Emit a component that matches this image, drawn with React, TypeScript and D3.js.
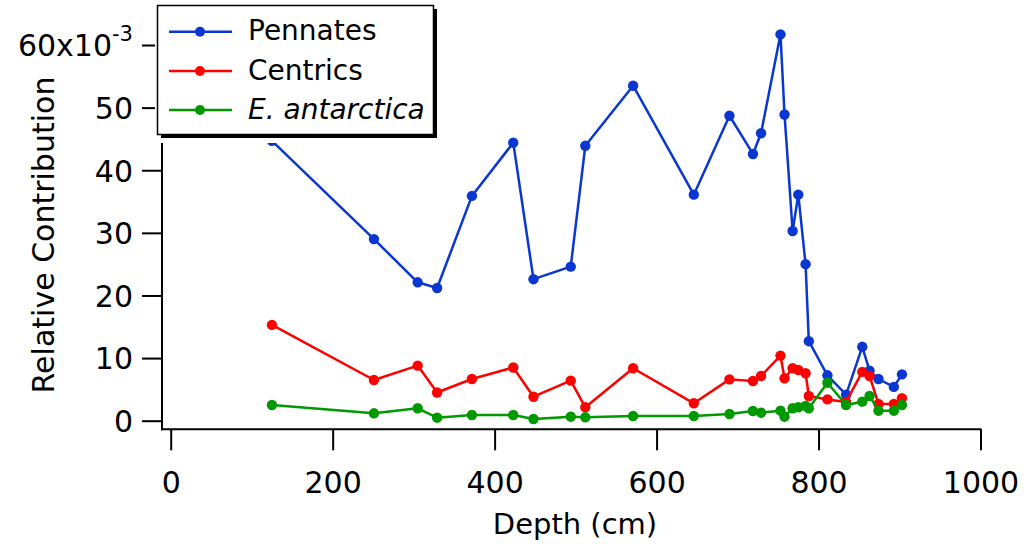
import React, { useRef, useEffect } from 'react';
import * as d3 from 'd3';

// depth in cm, values in units of 1e-3
const depths = [125, 251, 305, 329, 372, 423, 448, 494, 512, 571, 646, 690, 719, 729, 753, 758, 768, 775, 784, 788, 811, 834, 854, 863, 874, 893, 903];
const pennates = [44.7, 29.0, 22.1, 21.2, 35.9, 44.4, 22.6, 24.6, 43.9, 53.5, 36.1, 48.7, 42.6, 45.9, 61.7, 48.9, 30.3, 36.1, 25.0, 12.7, 7.25, 4.15, 11.8, 8.0, 6.66, 5.4, 7.4];
const centrics = [15.3, 6.5, 8.8, 4.5, 6.66, 8.5, 3.83, 6.4, 2.14, 8.37, 2.78, 6.6, 6.34, 7.14, 10.4, 6.77, 8.37, 8.1, 7.57, 3.95, 3.4, 3.0, 7.8, 7.14, 2.67, 2.67, 3.58];
const eAntarctica = [2.5, 1.18, 1.98, 0.48, 0.91, 0.91, 0.27, 0.64, 0.54, 0.75, 0.75, 1.07, 1.55, 1.28, 1.6, 0.64, 1.98, 2.14, 2.35, 1.98, 6.07, 2.5, 3.04, 3.95, 1.6, 1.6, 2.5];

const seriesNames = ['Pennates', 'Centrics', 'E. antarctica'];
const seriesColors = ['#0a36d2', '#ff0000', '#009900'];
const xTicks = [0, 200, 400, 600, 800, 1000];
const yTicks = [0, 10, 20, 30, 40, 50, 60];

function App() {
  const ref = useRef<SVGSVGElement>(null);

  useEffect(() => {
    const svg = d3.select(ref.current);
    svg.selectAll('*').remove();

    const font = "'DejaVu Sans', sans-serif";
    const axisX = 162;
    const axisY = 429.3;

    const xScale = d3.scaleLinear().domain([0, 1000]).range([170.7, 980.5]);
    const yScale = d3.scaleLinear().domain([0, 60]).range([420.7, 45]);

    // x axis
    const gx = svg.append('g').attr('transform', `translate(0,${axisY})`)
      .call(d3.axisBottom(xScale).tickValues(xTicks).tickSize(21).tickSizeOuter(0).tickFormat(d3.format('d')));
    gx.select('.domain').remove();
    gx.selectAll('line').attr('stroke', '#000').attr('stroke-width', 2);
    gx.selectAll('text').attr('y', 64).attr('dy', null)
      .attr('font-family', font).attr('font-size', 30).attr('fill', '#000');
    svg.append('line').attr('x1', axisX - 1).attr('x2', xScale(1000) + 1)
      .attr('y1', axisY).attr('y2', axisY).attr('stroke', '#000').attr('stroke-width', 2);

    // y axis
    const gy = svg.append('g').attr('transform', `translate(${axisX},0)`)
      .call(d3.axisLeft(yScale).tickValues(yTicks).tickSize(20).tickPadding(9).tickSizeOuter(0).tickFormat(d3.format('d')));
    gy.select('.domain').remove();
    gy.selectAll('line').attr('stroke', '#000').attr('stroke-width', 2);
    gy.selectAll('text').attr('font-family', font).attr('font-size', 30).attr('fill', '#000').attr('dy', '0.36em');
    gy.selectAll<SVGTextElement, number>('text').filter(d => d === 60).each(function () {
      const t = d3.select(this);
      t.text('60x10');
      t.append('tspan').attr('font-size', 21).attr('dy', '-0.75em').text('-3');
    });
    svg.append('line').attr('x1', axisX).attr('x2', axisX)
      .attr('y1', 38).attr('y2', axisY + 1).attr('stroke', '#000').attr('stroke-width', 2);

    // axis titles
    svg.append('text').attr('x', 575).attr('y', 534).attr('text-anchor', 'middle')
      .attr('font-family', font).attr('font-size', 29).attr('fill', '#000').text('Depth (cm)');
    svg.append('text').attr('transform', 'translate(54,235) rotate(-90)').attr('text-anchor', 'middle')
      .attr('font-family', font).attr('font-size', 30).attr('fill', '#000').text('Relative Contribution');

    // traces
    const allSeries = [pennates, centrics, eAntarctica];
    const line = d3.line<number>().x((d, i) => xScale(depths[i])).y(d => yScale(d));
    allSeries.forEach((vals, k) => {
      const g = svg.append('g');
      g.append('path').attr('d', line(vals)).attr('fill', 'none')
        .attr('stroke', seriesColors[k]).attr('stroke-width', 2.5).attr('stroke-linejoin', 'round');
      g.selectAll('circle').data(vals).enter().append('circle')
        .attr('cx', (d, i) => xScale(depths[i]))
        .attr('cy', d => yScale(d))
        .attr('r', 5.2)
        .attr('fill', seriesColors[k]);
    });

    // legend
    const lg = svg.append('g');
    lg.append('rect').attr('x', 155).attr('y', 0).attr('width', 286).attr('height', 143).attr('fill', '#fff');
    lg.append('rect').attr('x', 161).attr('y', 9).attr('width', 276).attr('height', 129).attr('fill', '#000');
    lg.append('rect').attr('x', 157.5).attr('y', 5.5).attr('width', 276).attr('height', 129)
      .attr('fill', '#fff').attr('stroke', '#000').attr('stroke-width', 1.5);
    const rowY = [31.7, 71, 110];
    seriesNames.forEach((name, k) => {
      lg.append('line').attr('x1', 169).attr('x2', 232).attr('y1', rowY[k]).attr('y2', rowY[k])
        .attr('stroke', seriesColors[k]).attr('stroke-width', 2.5);
      lg.append('circle').attr('cx', 200).attr('cy', rowY[k]).attr('r', 5).attr('fill', seriesColors[k]);
      lg.append('text').attr('x', 248).attr('y', rowY[k] + 8.5)
        .attr('font-family', font).attr('font-size', 28).attr('fill', '#000')
        .attr('font-style', k === 2 ? 'italic' : 'normal')
        .text(name);
    });
  }, []);

  return <svg ref={ref} width={1028} height={548} style={{ position: 'absolute', left: 0, top: 0, background: '#fff' }}></svg>;
}

export default App;
